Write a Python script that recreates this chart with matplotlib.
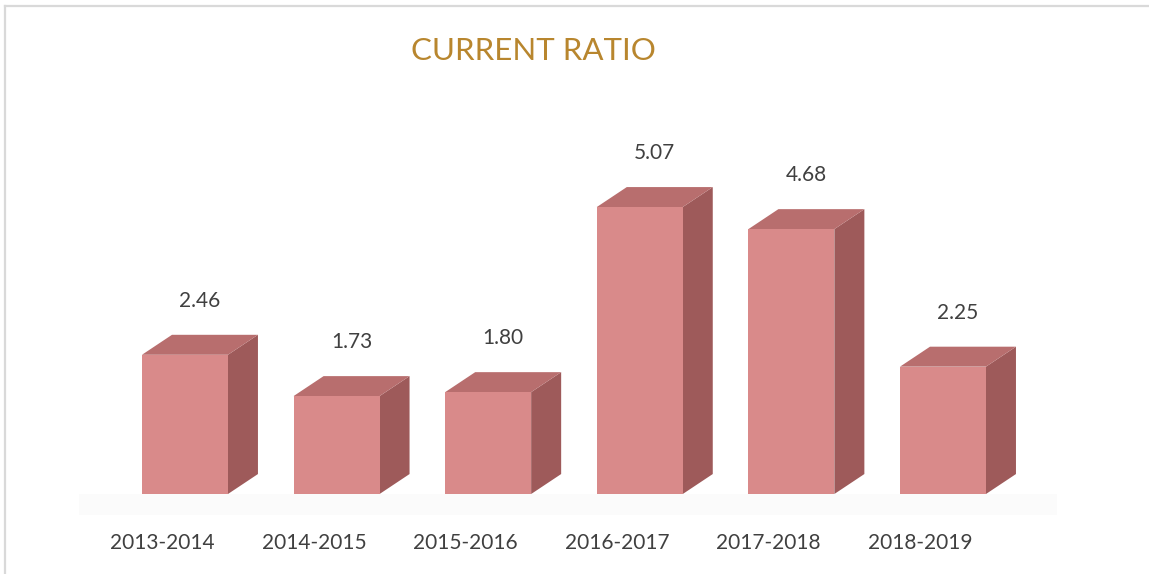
import matplotlib
matplotlib.use("Agg")
import matplotlib.pyplot as plt
from matplotlib.patches import Polygon
from matplotlib.lines import Line2D

# data
years = ["2013-2014", "2014-2015", "2015-2016", "2016-2017", "2017-2018", "2018-2019"]
ratios = [2.46, 1.73, 1.80, 5.07, 4.68, 2.25]
value_labels = ["2.46", "1.73", "1.80", "5.07", "4.68", "2.25"]

front_col = "#D98A8A"
side_col = "#9E5A5A"
top_col = "#B86E6E"
text_col = "#404040"

plt.rcParams["font.family"] = ["Lato", "DejaVu Sans"]

fig = plt.figure(figsize=(11.49, 5.74), dpi=100)
ax = fig.add_axes([0, 0, 1, 1])
ax.set_xlim(-1.220, 6.359)
ax.set_ylim(-1.413, 8.728)
ax.axis("off")

width = 0.567
dx, dy = 0.198, 0.353   # fake depth of the 3d bars

# faint floor under the bars
ax.add_patch(Polygon([(-0.7, -0.37), (5.75, -0.37), (5.75, 0.0), (-0.7, 0.0)],
                     closed=True, facecolor="#FBFBFB", edgecolor="none", zorder=0))

for i, v in enumerate(ratios):
    x0 = i - width / 2
    x1 = i + width / 2
    # side face
    ax.add_patch(Polygon([(x1, 0), (x1 + dx, dy), (x1 + dx, v + dy), (x1, v)],
                         closed=True, facecolor=side_col, edgecolor="none"))
    # top face
    ax.add_patch(Polygon([(x0, v), (x0 + dx, v + dy), (x1 + dx, v + dy), (x1, v)],
                         closed=True, facecolor=top_col, edgecolor="none"))
    # front face
    ax.add_patch(Polygon([(x0, 0), (x1, 0), (x1, v), (x0, v)],
                         closed=True, facecolor=front_col, edgecolor="none"))
    ax.text(i + dx / 2, v + dy + 0.6, value_labels[i], ha="center", va="center",
            fontsize=15, color=text_col)
    ax.text(i - 0.15, -0.866, years[i], ha="center", va="center",
            fontsize=15, color=text_col)

fig.text(533 / 1149, 1 - 51 / 574, "CURRENT RATIO", ha="center", va="center",
         fontsize=22.5, color="#B8862E")

# chart frame (only top and left edges show)
fig.add_artist(Line2D([5 / 1149, 5 / 1149], [0, 1 - 6 / 574], transform=fig.transFigure,
                      color="#D9D9D9", linewidth=1.6))
fig.add_artist(Line2D([5 / 1149, 1], [1 - 6 / 574, 1 - 6 / 574], transform=fig.transFigure,
                      color="#D9D9D9", linewidth=1.6))

fig.savefig("out.png", dpi=100)
